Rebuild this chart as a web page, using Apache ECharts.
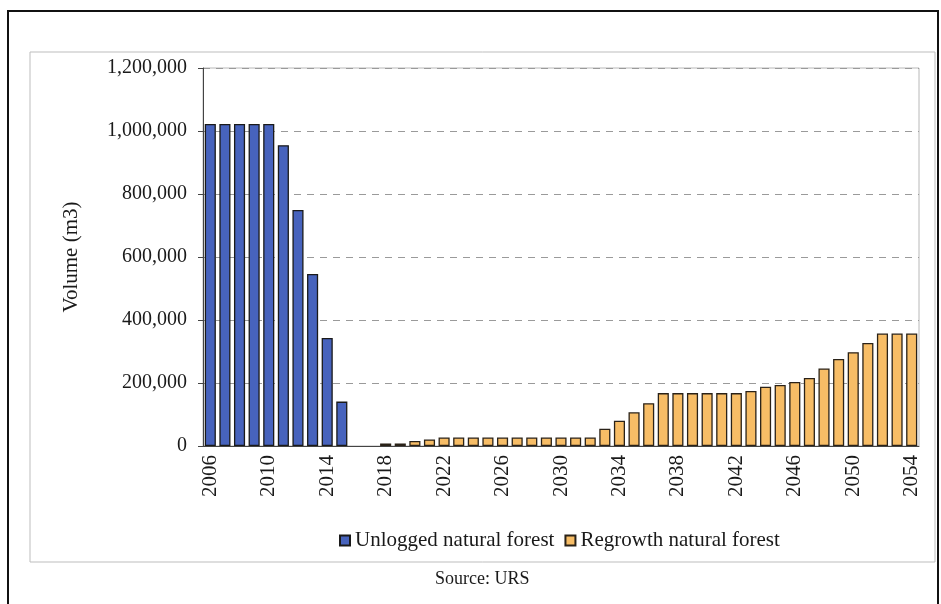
<!DOCTYPE html>
<html>
<head>
<meta charset="utf-8">
<title>Volume of natural forest</title>
<script src="https://cdn.jsdelivr.net/npm/echarts@6/dist/echarts.min.js"></script>
<style>
  html, body { margin: 0; padding: 0; background: #fff; }
  #main { width: 941px; height: 604px; }
</style>
</head>
<body>
<div id="main"></div>
<script>
// years on the x axis
const years = ['2006', '2007', '2008', '2009', '2010', '2011', '2012', '2013', '2014', '2015',
  '2016', '2017', '2018', '2019', '2020', '2021', '2022', '2023', '2024', '2025',
  '2026', '2027', '2028', '2029', '2030', '2031', '2032', '2033', '2034', '2035',
  '2036', '2037', '2038', '2039', '2040', '2041', '2042', '2043', '2044', '2045',
  '2046', '2047', '2048', '2049', '2050', '2051', '2052', '2053', '2054'];

// Unlogged natural forest, 2006 - 2015
const unlogged = [1022000, 1022000, 1022000, 1022000, 1022000, 955000, 749000, 546000, 343000, 141000];

// Regrowth natural forest, 2018 - 2054
const regrowthStart = '2018';
const regrowth = [8000, 8000, 16000, 21000,
  27000, 27000, 27000, 27000, 27000, 27000, 27000, 27000, 27000, 27000, 27000,
  55000, 80000, 107000, 136000, 168000,
  168000, 168000, 168000, 168000, 168000,
  175000, 188000, 194000, 203000, 216000, 246000, 276000, 298000, 327000,
  357000, 357000, 357000];

const yTicks = [0, 200000, 400000, 600000, 800000, 1000000, 1200000];

// pad series to full year range
const unloggedData = years.map((y, i) => i < unlogged.length ? unlogged[i] : null);
const offset = years.indexOf(regrowthStart);
const regrowthData = years.map((y, i) => i >= offset ? regrowth[i - offset] : null);

const serif = '"Liberation Serif", "DejaVu Serif", serif';

const chart = echarts.init(document.getElementById('main'));

const option = {
  animation: false,
  backgroundColor: '#fff',
  textStyle: { fontFamily: serif },
  grid: {
    left: 203,
    right: 22,
    top: 68,
    bottom: 158,
    show: true,
    borderColor: '#b8b8b8',
    borderWidth: 1
  },
  legend: {
    bottom: 48,
    left: 334,
    itemWidth: 10,
    itemHeight: 10,
    itemGap: 10,
    icon: 'rect',
    textStyle: { fontFamily: serif, fontSize: 21, color: '#1a1a1a' },
    data: ['Unlogged natural forest', 'Regrowth natural forest']
  },
  xAxis: {
    type: 'category',
    data: years,
    axisLine: { lineStyle: { color: '#444' } },
    axisTick: { interval: 3, length: 5, lineStyle: { color: '#444' } },
    axisLabel: {
      interval: 3,
      rotate: 90,
      margin: 9,
      fontFamily: serif,
      fontSize: 21,
      color: '#1a1a1a'
    }
  },
  yAxis: {
    type: 'value',
    min: yTicks[0],
    max: yTicks[yTicks.length - 1],
    interval: yTicks[1] - yTicks[0],
    name: 'Volume (m3)',
    nameLocation: 'middle',
    nameGap: 121,
    nameTextStyle: { fontFamily: serif, fontSize: 21, color: '#1a1a1a' },
    axisLine: { show: true, lineStyle: { color: '#444' } },
    axisTick: { show: true, length: 5, lineStyle: { color: '#444' } },
    axisLabel: {
      margin: 16,
      fontFamily: serif,
      fontSize: 20,
      color: '#1a1a1a',
      formatter: v => v.toLocaleString('en-US')
    },
    splitLine: {
      show: true,
      lineStyle: { type: [7, 6], color: '#9a9a9a', width: 1 }
    }
  },
  series: [
    {
      name: 'Unlogged natural forest',
      type: 'bar',
      stack: 'vol',
      barWidth: '76%',
      itemStyle: { color: '#4763bd', borderColor: '#1a1a1a', borderWidth: 1.3 },
      data: unloggedData
    },
    {
      name: 'Regrowth natural forest',
      type: 'bar',
      stack: 'vol',
      barWidth: '76%',
      itemStyle: { color: '#f7bd66', borderColor: '#2a2218', borderWidth: 1.3 },
      data: regrowthData
    }
  ],
  graphic: [
    // scanned page frame
    {
      type: 'rect',
      shape: { x: 8, y: 11, width: 930, height: 610 },
      style: { fill: 'none', stroke: '#111', lineWidth: 2 },
      silent: true
    },
    // chart area border
    {
      type: 'rect',
      shape: { x: 30, y: 52, width: 905, height: 510 },
      style: { fill: 'none', stroke: '#bdbdbd', lineWidth: 1 },
      silent: true
    },
    {
      type: 'text',
      left: 435,
      top: 570,
      style: { text: 'Source: URS', font: '18px ' + serif, fill: '#1a1a1a' }
    }
  ]
};

chart.setOption(option);
</script>
</body>
</html>
